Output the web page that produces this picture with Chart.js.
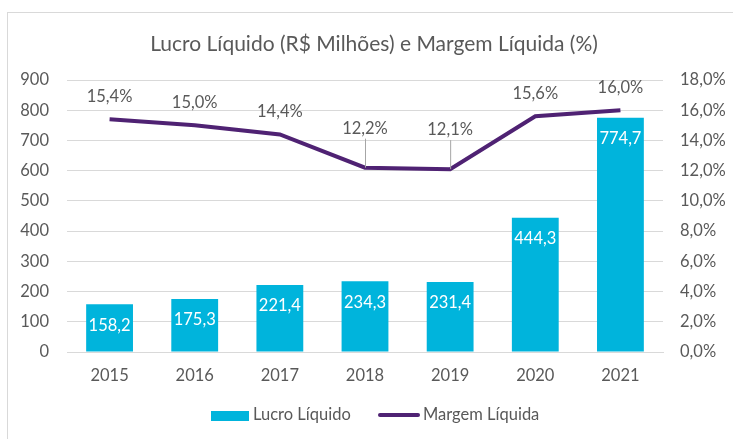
<!DOCTYPE html>
<html>
<head>
<meta charset="utf-8">
<script src="https://cdn.jsdelivr.net/npm/chart.js@4"></script>
<style>
  html, body { margin: 0; padding: 0; background: #fff; }
  #wrap { width: 733px; height: 439px; }
</style>
</head>
<body>
<div id="wrap"><canvas id="chart" width="733" height="439"></canvas></div>
<script>
var anos = ['2015', '2016', '2017', '2018', '2019', '2020', '2021'];
var lucro = [158.2, 175.3, 221.4, 234.3, 231.4, 444.3, 774.7];
var margem = [15.4, 15.0, 14.4, 12.2, 12.1, 15.6, 16.0];
var titulo = 'Lucro Líquido (R$ Milhões) e Margem Líquida (%)';

var corBarra = '#00B4DC';
var corLinha = '#4F2273';
var corTexto = '#595959';
var corGrade = '#D9D9D9';
var fonte = 'Lato, "Noto Sans", sans-serif';

function fmt(v, casas) {
    return v.toFixed(casas).replace('.', ',');
}

// desenha moldura, título, rótulos e legenda
var extras = {
    id: 'extras',
    beforeDraw: function (chart) {
        var ctx = chart.ctx;
        ctx.save();
        ctx.fillStyle = '#fff';
        ctx.fillRect(0, 0, chart.width, chart.height);
        ctx.strokeStyle = corGrade;
        ctx.lineWidth = 1;
        ctx.strokeRect(7.5, 12.5, chart.width + 10, chart.height + 10);
        ctx.restore();
    },
    afterDatasetsDraw: function (chart) {
        var ctx = chart.ctx;
        ctx.save();
        ctx.textAlign = 'center';
        ctx.textBaseline = 'middle';

        // título
        ctx.fillStyle = corTexto;
        ctx.font = '21px ' + fonte;
        ctx.fillText(titulo, 374, 44);

        // rótulos das barras
        ctx.font = '16.5px ' + fonte;
        ctx.fillStyle = '#fff';
        chart.getDatasetMeta(0).data.forEach(function (bar, i) {
            ctx.fillText(fmt(lucro[i], 1), bar.x, bar.y + 21);
        });

        // rótulos da linha
        var meta = chart.getDatasetMeta(1);
        meta.data.forEach(function (pt, i) {
            var ly = pt.y - 23;
            if (i == 3 || i == 4) {
                ly = pt.y - 39;
                ctx.strokeStyle = '#A6A6A6';
                ctx.lineWidth = 1;
                ctx.beginPath();
                ctx.moveTo(pt.x + 0.5, ly + 10);
                ctx.lineTo(pt.x + 0.5, pt.y);
                ctx.stroke();
            }
            ctx.fillStyle = corTexto;
            ctx.fillText(fmt(margem[i], 1) + '%', pt.x, ly);
        });

        // legenda
        ctx.textAlign = 'left';
        ctx.fillStyle = corBarra;
        ctx.fillRect(211, 411, 38, 10);
        ctx.strokeStyle = corLinha;
        ctx.lineWidth = 4;
        ctx.lineCap = 'round';
        ctx.beginPath();
        ctx.moveTo(380, 415);
        ctx.lineTo(418, 415);
        ctx.stroke();
        ctx.fillStyle = corTexto;
        ctx.font = '16.5px ' + fonte;
        ctx.fillText(chart.data.datasets[0].label, 253, 415);
        ctx.fillText(chart.data.datasets[1].label, 423, 415);
        ctx.restore();
    }
};

new Chart(document.getElementById('chart'), {
    data: {
        labels: anos,
        datasets: [
            {
                type: 'bar',
                label: 'Lucro Líquido',
                data: lucro,
                backgroundColor: corBarra,
                yAxisID: 'y',
                categoryPercentage: 1,
                barPercentage: 0.55,
                order: 2
            },
            {
                type: 'line',
                label: 'Margem Líquida',
                data: margem,
                borderColor: corLinha,
                borderWidth: 4,
                pointRadius: 0,
                tension: 0,
                yAxisID: 'y1',
                order: 1
            }
        ]
    },
    options: {
        responsive: false,
        animation: false,
        layout: { padding: { top: 80, bottom: 47, left: 0, right: 0 } },
        plugins: {
            legend: { display: false },
            title: { display: false },
            tooltip: { enabled: false }
        },
        scales: {
            x: {
                grid: { display: false, drawTicks: false },
                border: { color: corGrade, width: 1 },
                ticks: { color: corTexto, font: { family: fonte, size: 16.5 }, padding: 14 },
                afterFit: function (s) { s.height = 40; }
            },
            y: {
                position: 'left',
                min: 0,
                max: 900,
                ticks: { stepSize: 100, color: corTexto, font: { family: fonte, size: 16.5 }, padding: 18 },
                grid: { color: corGrade, drawTicks: false },
                border: { display: false },
                afterFit: function (s) { s.width = 67; }
            },
            y1: {
                position: 'right',
                min: 0,
                max: 18,
                ticks: {
                    stepSize: 2,
                    color: corTexto,
                    font: { family: fonte, size: 16.5 },
                    padding: 17,
                    callback: function (v) { return fmt(v, 1) + '%'; }
                },
                grid: { display: false, drawTicks: false },
                border: { display: false },
                afterFit: function (s) { s.width = 70; }
            }
        }
    },
    plugins: [extras]
});
</script>
</body>
</html>
